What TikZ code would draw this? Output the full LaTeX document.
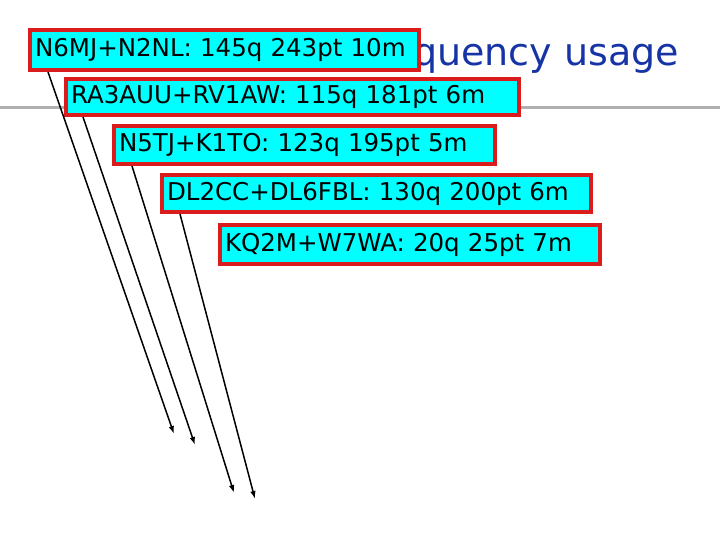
\documentclass[tikz,border=0pt]{standalone}
\usepackage{fontspec}
\setmainfont{DejaVu Sans}
\usetikzlibrary{arrows.meta}
\definecolor{boxred}{RGB}{218,28,28}
\definecolor{boxcyan}{RGB}{0,255,255}
\definecolor{titleblue}{RGB}{22,52,165}
\definecolor{rulegray}{RGB}{175,175,175}
\newcommand{\labelfont}{\fontsize{24.5}{28}\selectfont}
\newcommand{\titlefont}{\fontsize{38}{44}\selectfont}

\begin{document}
\begin{tikzpicture}[x=1pt,y=-1pt,
  callbox/.style={draw=boxred,line width=4pt,fill=boxcyan,anchor=north west,
    inner xsep=5pt,inner ysep=0pt,align=left,font=\labelfont},
  link/.style={line width=1.5pt,-{Latex[length=8pt,width=5.5pt]}}]
\useasboundingbox (0,0) rectangle (720,540);
% slide title and rule, partly hidden by the boxes
\node[anchor=base east,inner sep=0pt,font=\titlefont,text=titleblue] (title) at (679,66) {Frequency usage};
\draw[line width=3.5pt,rulegray] (0,107.5) -- (720,107.5);
% the five pairs
\node[callbox,text width=379pt,minimum height=40pt] (n6mj) at (28,28) {N6MJ+N2NL: 145q 243pt 10m};
\node[callbox,text width=443pt,minimum height=36pt] (ra3auu) at (64,77) {RA3AUU+RV1AW: 115q 181pt 6m};
\node[callbox,text width=371pt,minimum height=38pt] (n5tj) at (112,124) {N5TJ+K1TO: 123q 195pt 5m};
\node[callbox,text width=419pt,minimum height=37pt] (dl2cc) at (160,173) {DL2CC+DL6FBL: 130q 200pt 6m};
\node[callbox,text width=370pt,minimum height=39pt] (kq2m) at (218,223) {KQ2M+W7WA: 20q 25pt 7m};
% arrows down to the free ends
\coordinate (e1) at (174,434);
\coordinate (e2) at (195,445);
\coordinate (e3) at (234,493);
\coordinate (e4) at (255,499);
\draw[link] ([xshift=20pt]n6mj.south west) -- (e1);
\draw[link] ([xshift=19pt]ra3auu.south west) -- (e2);
\draw[link] ([xshift=20pt]n5tj.south west) -- (e3);
\draw[link] ([xshift=20pt]dl2cc.south west) -- (e4);
\end{tikzpicture}
\end{document}
